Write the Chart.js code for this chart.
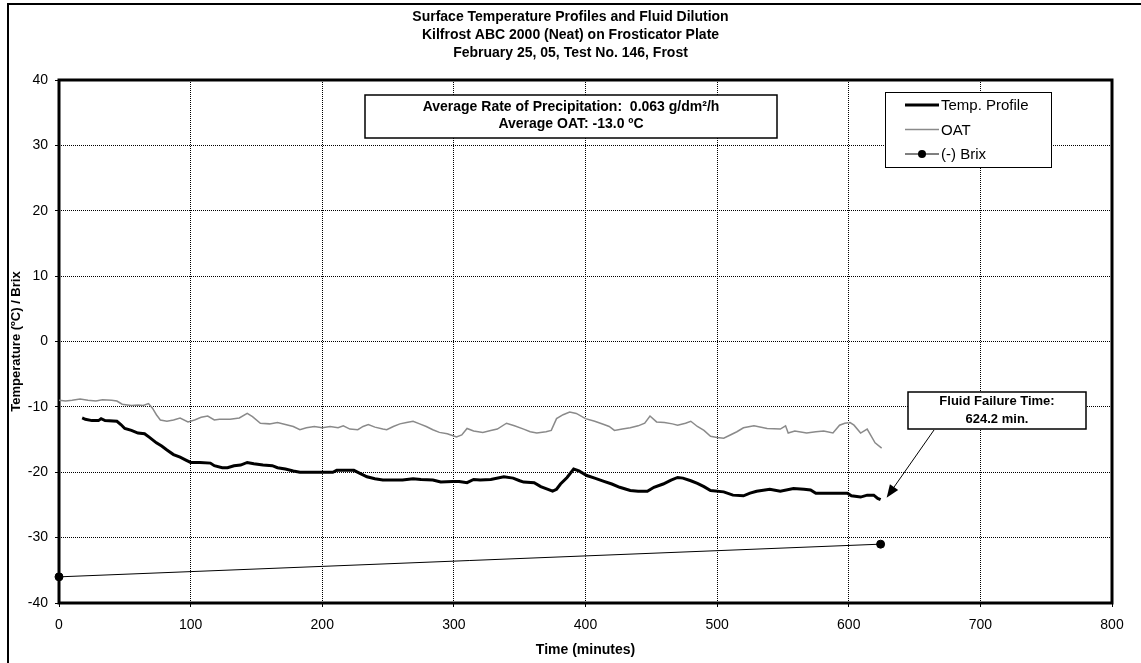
<!DOCTYPE html>
<html>
<head>
<meta charset="utf-8">
<title>Surface Temperature Profiles and Fluid Dilution</title>
<script src="https://cdn.jsdelivr.net/npm/chart.js@4.4.1/dist/chart.umd.min.js"></script>
<style>
  html, body { margin: 0; padding: 0; background: #fff; }
  #chartBox { width: 1141px; height: 663px; }
</style>
</head>
<body>
<div id="chartBox"><canvas id="profileChart" width="1141" height="663"></canvas></div>
<script>
const titleLines = [
    "Surface Temperature Profiles and Fluid Dilution",
    "Kilfrost ABC 2000 (Neat) on Frosticator Plate",
    "February 25, 05, Test No. 146, Frost"
];

// plate surface temperature (minutes, degC)
const tempTime = [17.6, 20, 25, 30, 32, 35, 44, 47, 50, 55, 60, 65, 69, 74, 78, 82, 87, 92, 96, 100,
    107, 115, 118, 124, 128, 133, 138, 143, 148, 155, 162, 166, 172, 178, 183, 195, 208, 211, 224, 229,
    234, 240, 246, 255, 261, 269, 275, 284, 290, 299, 304, 310, 315, 320, 328, 338, 345, 350, 353, 361,
    366, 370, 375, 378, 381, 386, 391, 395, 401, 407, 414, 420, 426, 434, 440, 447, 452, 459, 465, 470,
    474, 480, 485, 490, 495, 505, 512, 520, 525, 530, 540, 548, 558, 566, 571, 575, 590, 599, 602, 609,
    614, 619, 622, 624.2];
const tempValues = [-11.7, -11.9, -12.1, -12.1, -11.8, -12.1, -12.2, -12.7, -13.3, -13.6, -14.0, -14.1, -14.7, -15.5, -16.0, -16.6, -17.3, -17.7, -18.1, -18.5,
    -18.5, -18.6, -19.0, -19.3, -19.3, -19.0, -18.9, -18.5, -18.7, -18.9, -19.0, -19.3, -19.5, -19.8, -20.0, -20.0, -20.0, -19.7, -19.7, -20.2,
    -20.7, -21.0, -21.2, -21.2, -21.2, -21.0, -21.1, -21.2, -21.5, -21.4, -21.4, -21.6, -21.1, -21.2, -21.1, -20.7, -20.9, -21.3, -21.5, -21.6,
    -22.2, -22.5, -22.9, -22.6, -21.8, -20.8, -19.5, -19.8, -20.5, -20.9, -21.4, -21.8, -22.3, -22.8, -22.9, -22.9, -22.3, -21.8, -21.2, -20.8,
    -20.9, -21.3, -21.7, -22.2, -22.8, -23.0, -23.5, -23.6, -23.2, -22.9, -22.6, -22.9, -22.5, -22.6, -22.7, -23.2, -23.2, -23.2, -23.6, -23.8,
    -23.5, -23.5, -24.0, -24.2];

// outside air temperature
const oatTime = [0, 5, 10, 16, 22, 28, 33, 40, 44, 48, 55, 60, 64, 68, 71, 74, 77, 82, 87, 92,
    98, 103, 108, 113, 118, 122, 130, 137, 143, 147, 153, 160, 166, 172, 178, 183, 188, 194, 200, 206,
    212, 216, 221, 227, 231, 235, 240, 246, 249, 254, 259, 264, 269, 274, 279, 284, 289, 295, 302, 306,
    310, 315, 322, 328, 333, 340, 346, 353, 358, 363, 370, 374, 378, 383, 388, 393, 400, 407, 414, 418,
    422, 428, 434, 440, 445, 449, 454, 460, 466, 470, 476, 480, 485, 490, 495, 500, 505, 510, 515, 520,
    528, 538, 548, 552, 554, 559, 568, 575, 581, 588, 593, 597, 601, 604, 609, 614, 620, 625];
const oatValues = [-9.0, -9.1, -9.0, -8.8, -9.0, -9.1, -8.9, -9.0, -9.1, -9.6, -9.8, -9.7, -9.8, -9.5, -10.2, -11.2, -12.0, -12.2, -12.0, -11.7,
    -12.3, -12.0, -11.6, -11.4, -12.0, -11.9, -11.9, -11.7, -11.0, -11.5, -12.5, -12.6, -12.4, -12.7, -13.0, -13.5, -13.2, -13.0, -13.2, -13.0,
    -13.2, -12.9, -13.4, -13.5, -13.0, -12.7, -13.1, -13.4, -13.5, -13.0, -12.6, -12.4, -12.2, -12.6, -13.0, -13.5, -13.9, -14.1, -14.6, -14.3,
    -13.3, -13.7, -13.9, -13.6, -13.4, -12.5, -12.9, -13.4, -13.8, -14.0, -13.8, -13.6, -11.8, -11.2, -10.8, -11.0, -11.8, -12.2, -12.7, -13.0,
    -13.6, -13.4, -13.2, -12.9, -12.5, -11.4, -12.3, -12.4, -12.6, -12.8, -12.5, -12.2, -13.0, -13.6, -14.5, -14.7, -14.8, -14.3, -13.8, -13.2,
    -12.9, -13.3, -13.4, -12.9, -14.0, -13.7, -14.0, -13.8, -13.7, -14.0, -12.8, -12.5, -12.4, -12.8, -14.0, -13.4, -15.5, -16.3];

// fluid brix (negated)
const brixTime = [0, 624.2];
const brixValues = [-36.0, -31.0];

const xTicks = [0, 100, 200, 300, 400, 500, 600, 700, 800];
const yTicks = [-40, -30, -20, -10, 0, 10, 20, 30, 40];

const failureTime = 624.2;
const precipNote = ["Average Rate of Precipitation:  0.063 g/dm\u00b2/h", "Average OAT: -13.0 \u00baC"];
const failureNote = ["Fluid Failure Time:", "624.2 min."];

const FONT = '"Liberation Sans", Arial, sans-serif';
Chart.defaults.font.family = FONT;
Chart.defaults.color = "#000";

function toPoints(xs, ys) {
    return xs.map((x, i) => ({ x: x, y: ys[i] }));
}

function drawNote(ctx, lines, box, size, first, step) {
    ctx.fillStyle = "#fff";
    ctx.fillRect(box.x, box.y, box.w, box.h);
    ctx.strokeStyle = "#000";
    ctx.lineWidth = 1.5;
    ctx.strokeRect(box.x, box.y, box.w, box.h);
    ctx.fillStyle = "#000";
    ctx.font = "bold " + size + "px " + FONT;
    ctx.textAlign = "center";
    ctx.textBaseline = "middle";
    lines.forEach((t, i) => ctx.fillText(t, box.x + box.w / 2, box.y + first + i * step));
}

const decorPlugin = {
    id: "decor",
    beforeDatasetsDraw(chart) {
        const { ctx, chartArea: a } = chart;
        ctx.save();
        ctx.strokeStyle = "#000";
        ctx.lineWidth = 3;
        ctx.strokeRect(a.left, a.top, a.right - a.left, a.bottom - a.top);
        // outer frame of the figure
        ctx.lineWidth = 2;
        ctx.beginPath();
        ctx.moveTo(8, chart.height);
        ctx.lineTo(8, 4);
        ctx.lineTo(chart.width, 4);
        ctx.stroke();
        ctx.restore();
    },
    afterDatasetsDraw(chart) {
        const ctx = chart.ctx;
        const xs = chart.scales.x, ys = chart.scales.y;
        ctx.save();

        drawNote(ctx, precipNote, { x: 365, y: 95, w: 412, h: 43 }, 14, 12, 17);
        drawNote(ctx, failureNote, { x: 908, y: 392, w: 178, h: 37 }, 13, 9, 18);

        // arrow to the failure point
        const tipX = xs.getPixelForValue(failureTime) + 6;
        const tipY = ys.getPixelForValue(tempValues[tempValues.length - 1]) - 2;
        const fromX = 934, fromY = 430;
        const ang = Math.atan2(tipY - fromY, tipX - fromX);
        ctx.strokeStyle = "#000";
        ctx.lineWidth = 1;
        ctx.beginPath();
        ctx.moveTo(fromX, fromY);
        ctx.lineTo(tipX - 10 * Math.cos(ang), tipY - 10 * Math.sin(ang));
        ctx.stroke();
        ctx.fillStyle = "#000";
        ctx.beginPath();
        ctx.moveTo(tipX, tipY);
        ctx.lineTo(tipX - 13 * Math.cos(ang) + 5 * Math.sin(ang), tipY - 13 * Math.sin(ang) - 5 * Math.cos(ang));
        ctx.lineTo(tipX - 13 * Math.cos(ang) - 5 * Math.sin(ang), tipY - 13 * Math.sin(ang) + 5 * Math.cos(ang));
        ctx.closePath();
        ctx.fill();

        // legend
        const lx = 885, ly = 92, lw = 166, lh = 75;
        ctx.fillStyle = "#fff";
        ctx.fillRect(lx, ly, lw, lh);
        ctx.strokeStyle = "#000";
        ctx.lineWidth = 1;
        ctx.strokeRect(lx + 0.5, ly + 0.5, lw, lh);
        ctx.font = "15px " + FONT;
        ctx.textAlign = "left";
        ctx.textBaseline = "middle";
        chart.data.datasets.forEach((ds, i) => {
            const y = ly + 13 + i * 24.5;
            ctx.strokeStyle = ds.borderColor;
            ctx.lineWidth = ds.borderWidth;
            ctx.beginPath();
            ctx.moveTo(905, y);
            ctx.lineTo(939, y);
            ctx.stroke();
            if (ds.pointRadius > 0) {
                ctx.fillStyle = ds.pointBackgroundColor;
                ctx.beginPath();
                ctx.arc(922, y, ds.pointRadius, 0, Math.PI * 2);
                ctx.fill();
            }
            ctx.fillStyle = "#000";
            ctx.fillText(ds.label, 941, y + 1);
        });
        ctx.restore();
    }
};

const gridStyle = { color: "#000", lineWidth: 1, tickLength: 4, tickColor: "#000", tickWidth: 1 };

const ctx = document.getElementById("profileChart").getContext("2d");
const profileChart = new Chart(ctx, {
    type: "line",
    data: {
        datasets: [{
            label: "Temp. Profile",
            data: toPoints(tempTime, tempValues),
            borderColor: "#000",
            borderWidth: 3,
            pointRadius: 0,
            tension: 0
        }, {
            label: "OAT",
            data: toPoints(oatTime, oatValues),
            borderColor: "#8a8a8a",
            borderWidth: 1.5,
            pointRadius: 0,
            tension: 0
        }, {
            label: "(-) Brix",
            data: toPoints(brixTime, brixValues),
            borderColor: "#000",
            borderWidth: 1,
            pointRadius: 4,
            pointBackgroundColor: "#000",
            pointBorderColor: "#000",
            tension: 0,
            clip: 8
        }]
    },
    options: {
        responsive: false,
        animation: false,
        events: [],
        layout: { padding: 0 },
        plugins: {
            legend: { display: false },
            tooltip: { enabled: false },
            title: {
                display: true,
                text: titleLines,
                color: "#000",
                font: { size: 14, weight: "bold", lineHeight: "18px" },
                padding: { top: 8, bottom: 18 }
            }
        },
        scales: {
            x: {
                type: "linear",
                min: 0,
                max: 800,
                afterBuildTicks: axis => { axis.ticks = xTicks.map(v => ({ value: v })); },
                afterFit: axis => { axis.height = 60; },
                grid: gridStyle,
                border: { display: false, dash: [1, 1] },
                ticks: { font: { size: 14 }, padding: 10, maxRotation: 0 },
                title: {
                    display: true,
                    text: "Time (minutes)",
                    font: { size: 14, weight: "bold" },
                    padding: { top: 0, bottom: 4 }
                }
            },
            y: {
                type: "linear",
                min: -40,
                max: 40,
                afterBuildTicks: axis => { axis.ticks = yTicks.map(v => ({ value: v })); },
                afterFit: axis => { axis.width = 59; },
                grid: gridStyle,
                border: { display: false, dash: [1, 1] },
                ticks: { font: { size: 14 }, padding: 7 },
                title: {
                    display: true,
                    text: "Temperature (\u00baC) / Brix",
                    font: { size: 13, weight: "bold" },
                    padding: { top: 9, bottom: 0 }
                }
            },
            // empty right-hand margin so the title centres on the whole figure
            yRight: {
                position: "right",
                afterFit: axis => { axis.width = 29; },
                grid: { display: false },
                border: { display: false },
                ticks: { display: false }
            }
        }
    },
    plugins: [decorPlugin]
});
</script>
</body>
</html>
